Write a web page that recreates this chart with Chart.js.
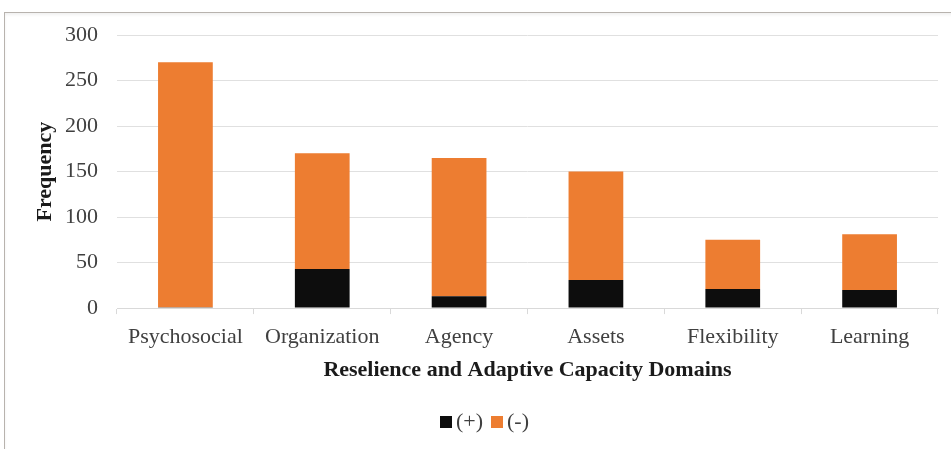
<!DOCTYPE html>
<html>
<head>
<meta charset="utf-8">
<script src="https://cdn.jsdelivr.net/npm/chart.js@4.4.1/dist/chart.umd.min.js"></script>
<style>
  html, body { margin: 0; padding: 0; background: #ffffff; }
  #wrap { position: relative; width: 951px; height: 449px; overflow: hidden; }
  #frame { position: absolute; left: 4px; top: 12px; width: 960px; height: 460px;
           border-top: 1px solid #b8b3ae; border-left: 1px solid #b8b3ae;
           box-shadow: inset 0 2px 3px rgba(0,0,0,0.06); }
  #chart { position: absolute; left: 0; top: 0; }
  #legend { position: absolute; left: 0; width: 951px; top: 408px; text-align: center;
            font-family: "Liberation Serif", serif; font-size: 22px; color: #404040; padding-left: 18px; box-sizing: border-box; }
  #legend span.item { display: inline-block; margin: 0 4px; }
  #legend span.box { display: inline-block; width: 12px; height: 12px; margin-right: 4px; vertical-align: 0px; }
</style>
</head>
<body>
<div id="wrap">
  <div id="frame"></div>
  <canvas id="chart" width="951" height="449"></canvas>
  <div id="legend"></div>
</div>
<script>
// Domain categories and counts of positive / negative mentions
const categories = ["Psychosocial", "Organization", "Agency", "Assets", "Flexibility", "Learning"];
const positiveCounts = [1, 43, 13, 31, 21, 20];
const negativeCounts = [269, 127, 152, 119, 54, 61];
const seriesLabels = ["(+)", "(-)"];
const seriesColors = ["#0d0d0d", "#ed7d31"];
const yTicks = [0, 50, 100, 150, 200, 250, 300];

const serif = "'Liberation Serif', 'Times New Roman', serif";
const textColor = "#404040";

const chart = new Chart(document.getElementById("chart"), {
  type: "bar",
  data: {
    labels: categories,
    datasets: [
      { label: seriesLabels[0], data: positiveCounts, backgroundColor: seriesColors[0], categoryPercentage: 1, barPercentage: 0.4 },
      { label: seriesLabels[1], data: negativeCounts, backgroundColor: seriesColors[1], categoryPercentage: 1, barPercentage: 0.4 }
    ]
  },
  options: {
    responsive: false,
    animation: false,
    devicePixelRatio: 1,
    layout: { padding: { left: 32, right: 13, top: 35, bottom: 67.5 } },
    plugins: {
      legend: { display: false },
      tooltip: { enabled: false }
    },
    scales: {
      x: {
        stacked: true,
        grid: { display: true, offset: true, drawOnChartArea: false, drawTicks: true, tickLength: 6, color: "#d9d9d9" },
        border: { display: true, color: "#d9d9d9", width: 1 },
        ticks: { font: { family: serif, size: 22 }, color: textColor, padding: 10 },
        title: { display: true, text: "Reselience and Adaptive Capacity Domains",
                 font: { family: serif, size: 22, weight: "bold", lineHeight: 1 }, color: "#1a1a1a", padding: { top: -1, bottom: 0 } }
      },
      y: {
        stacked: true,
        min: 0,
        max: 300,
        afterBuildTicks: (axis) => { axis.ticks = yTicks.map(v => ({ value: v })); },
        // fixed axis band: title on the outside, right-aligned labels next to the plot
        afterFit: (axis) => { axis.width = 85; },
        grid: { color: "#e0e0e0", lineWidth: 1, drawTicks: false },
        border: { display: false },
        ticks: { font: { family: serif, size: 22 }, color: textColor, padding: 19 },
        title: { display: true, text: "Frequency",
                 font: { family: serif, size: 22, weight: "bold" }, color: "#1a1a1a", padding: { top: 0, bottom: 6 } }
      }
    }
  }
});

// Legend built from the chart's own datasets
const legend = document.getElementById("legend");
chart.data.datasets.forEach(ds => {
  const item = document.createElement("span");
  item.className = "item";
  const box = document.createElement("span");
  box.className = "box";
  box.style.background = ds.backgroundColor;
  item.appendChild(box);
  item.appendChild(document.createTextNode(ds.label));
  legend.appendChild(item);
});
</script>
</body>
</html>
